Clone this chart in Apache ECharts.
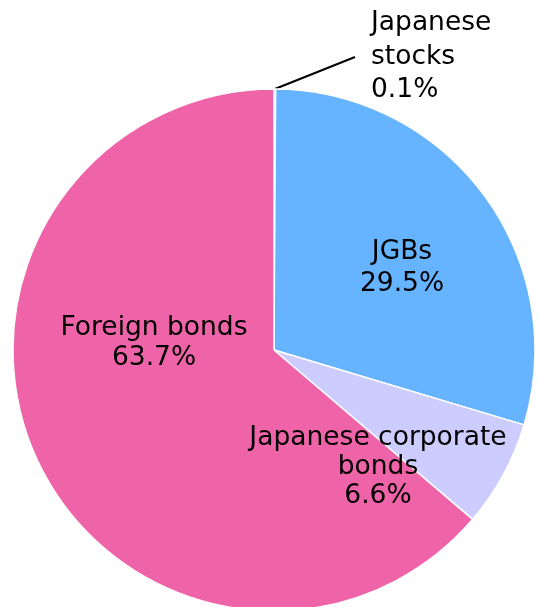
<!DOCTYPE html>
<html>
<head>
<meta charset="utf-8">
<script src="https://cdn.jsdelivr.net/npm/echarts@6/dist/echarts.min.js"></script>
<style>
  html, body { margin: 0; padding: 0; background: #fff; }
  #chart { width: 539px; height: 607px; }
</style>
</head>
<body>
<div id="chart"></div>
<script>
// slices, clockwise from 12 o'clock
const names = ['Japanese stocks', 'JGBs', 'Japanese corporate bonds', 'Foreign bonds'];
const labelTexts = ['Japanese\nstocks', 'JGBs', 'Japanese corporate\nbonds', 'Foreign bonds'];
const shares = [0.1, 29.5, 6.6, 63.7];
const colors = ['#e05a9a', '#66b3ff', '#ccccff', '#ef64a8'];

// where each label sits (pixels)
const labelSpots = [
  { x: 355, y: 57, align: 'left', lh: 33.5 },
  { x: 402, y: 268, align: 'center', lh: 31.5 },
  { x: 378, y: 467, align: 'center', lh: 29 },
  { x: 154, y: 343, align: 'center', lh: 30.5 }
];

const chart = echarts.init(document.getElementById('chart'));

chart.setOption({
  animation: false,
  series: [{
    type: 'pie',
    center: [274, 350],
    radius: 261,
    startAngle: 90,
    clockwise: true,
    avoidLabelOverlap: false,
    itemStyle: { borderColor: '#fff', borderWidth: 1.5 },
    label: {
      position: 'inside',
      color: '#000',
      fontFamily: 'DejaVu Sans',
      fontSize: 26.5,
      formatter: p => labelTexts[p.dataIndex] + '\n' + p.value.toFixed(1) + '%'
    },
    labelLine: { show: false },
    labelLayout: p => {
      const s = labelSpots[p.dataIndex];
      return { x: s.x, y: s.y, align: s.align, verticalAlign: 'middle', fontSize: 26.5 };
    },
    data: names.map((n, i) => {
      const d = {
        name: n, value: shares[i],
        itemStyle: { color: colors[i] },
        label: { lineHeight: labelSpots[i].lh }
      };
      if (i === 0) {
        d.label.position = 'outside';
        d.label.align = 'left';
        d.label.padding = [0, 0, 0, 16];
        d.labelLine = { show: true, length: 0, length2: 0, smooth: false, lineStyle: { color: '#000', width: 2 } };
      }
      return d;
    })
  }]
});
</script>
</body>
</html>
